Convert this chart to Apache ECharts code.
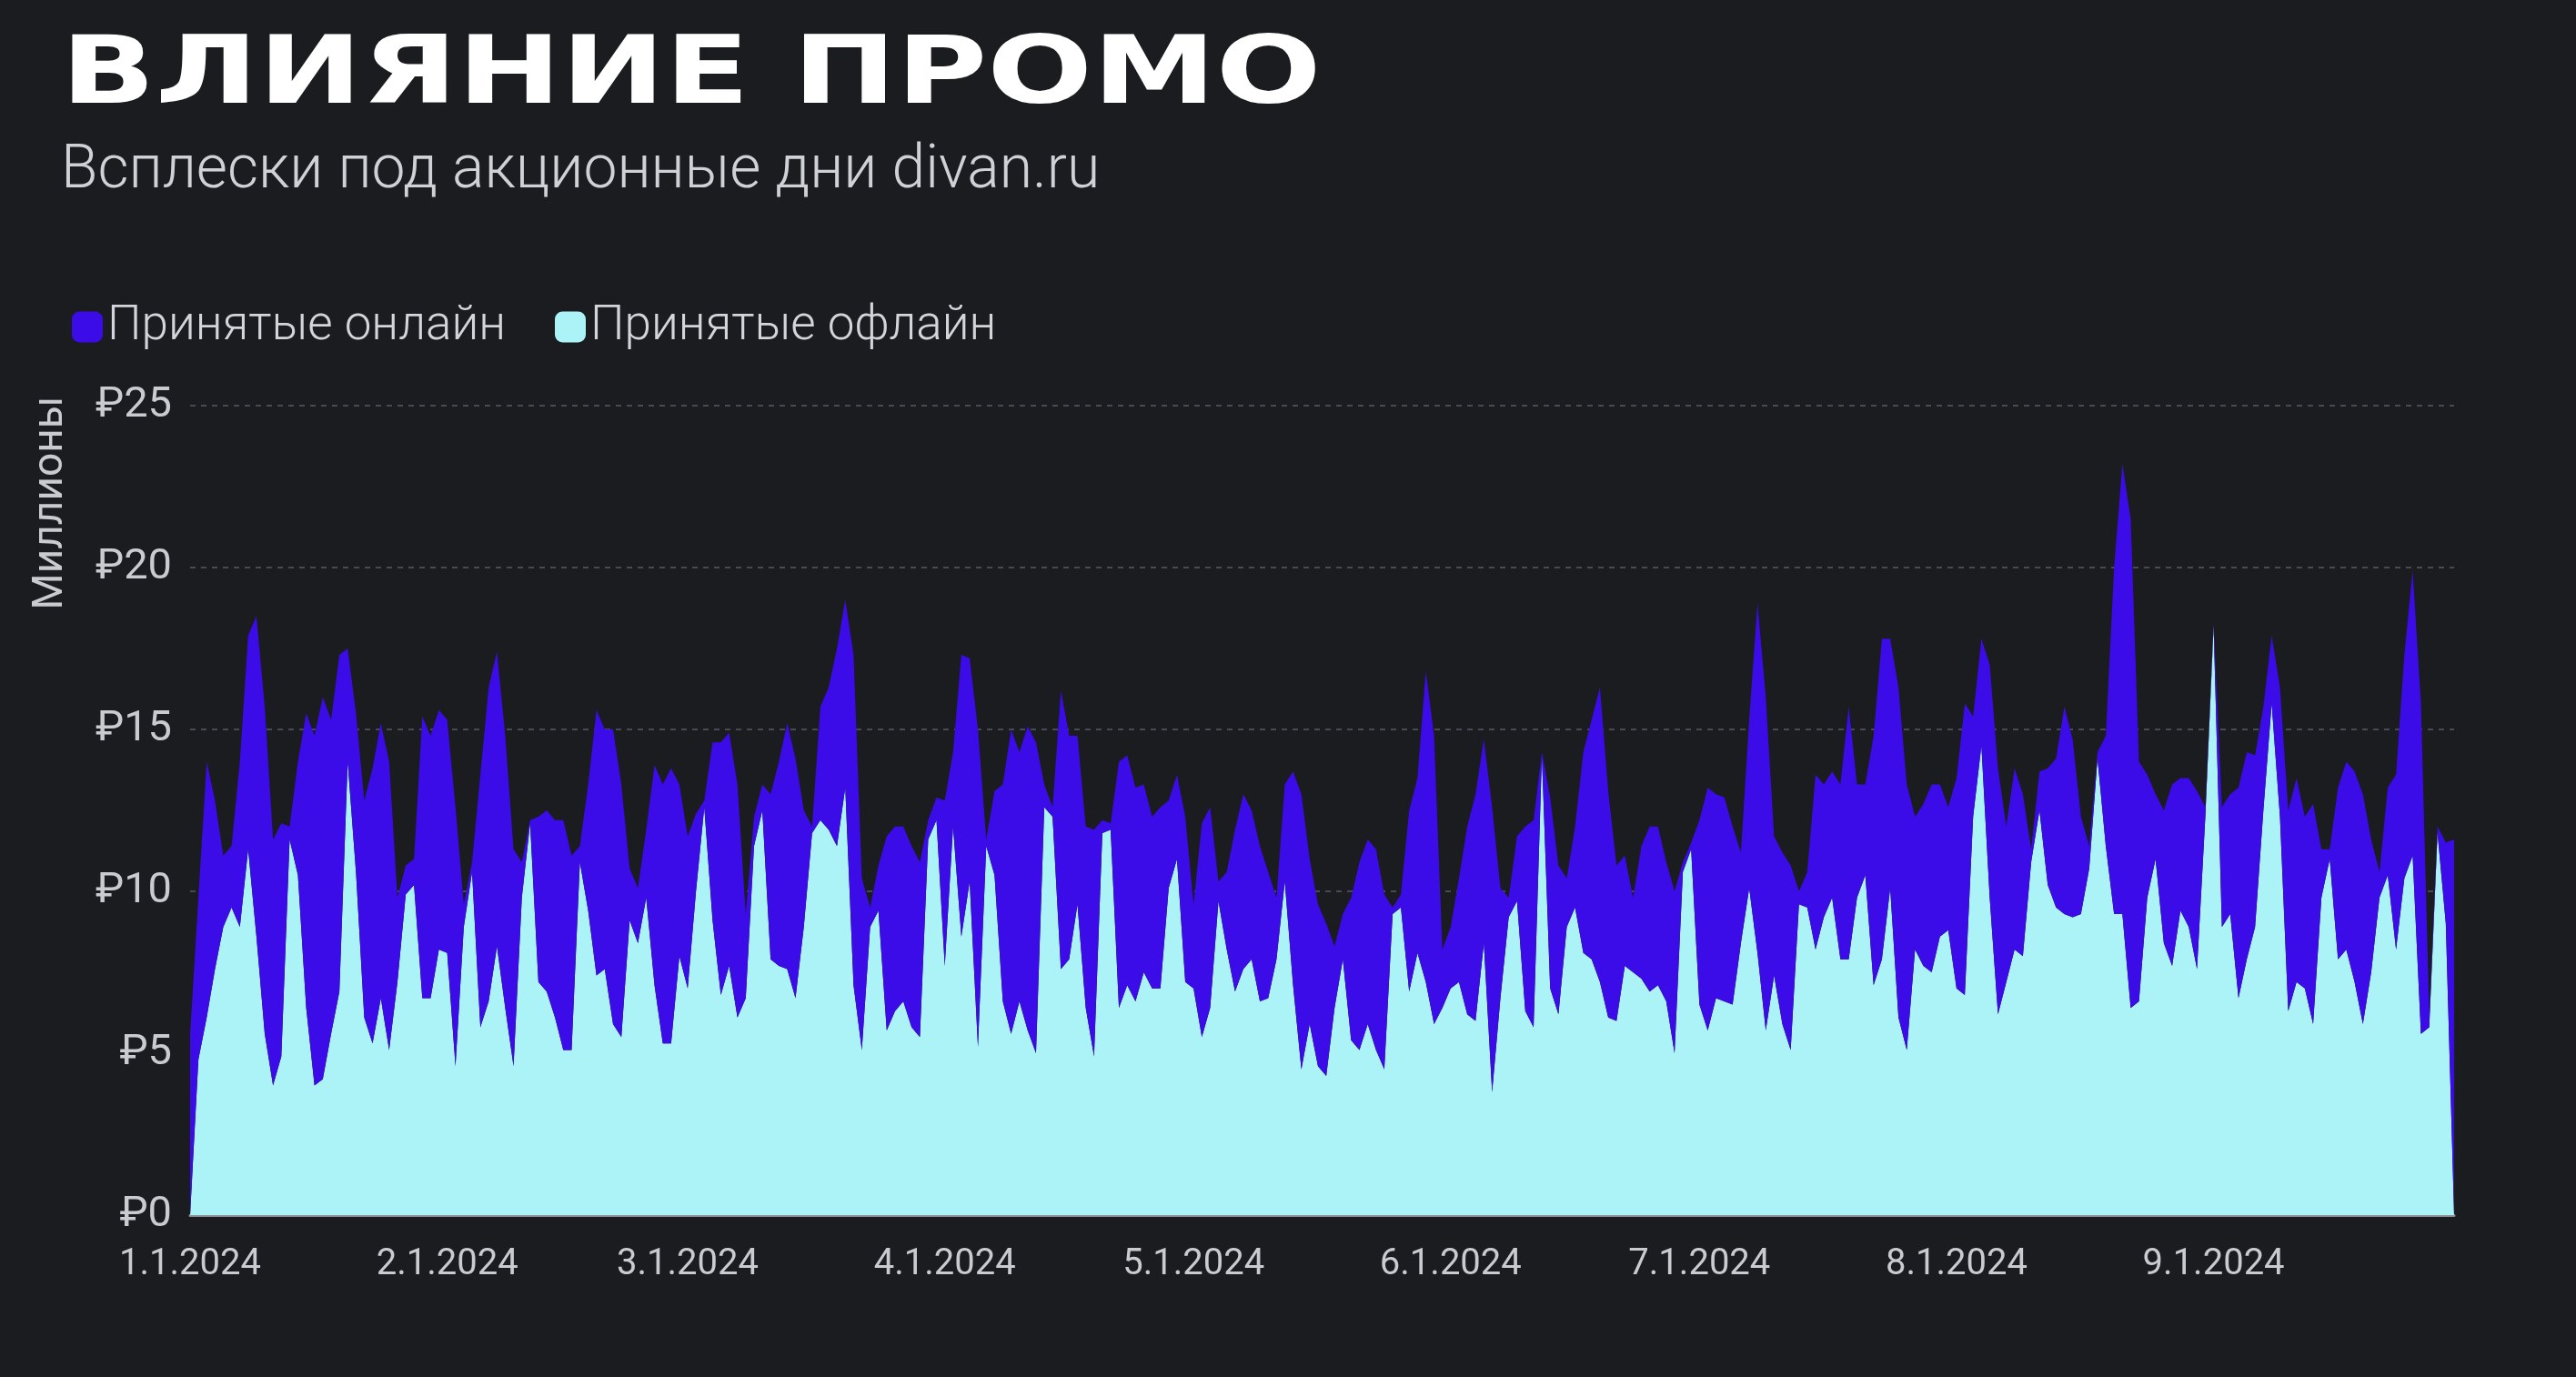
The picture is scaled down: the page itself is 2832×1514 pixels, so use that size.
<!DOCTYPE html>
<html><head><meta charset="utf-8">
<script src="https://cdn.jsdelivr.net/npm/echarts/dist/echarts.min.js"></script>
<style>html,body{margin:0;padding:0;background:#1a1c20;}#c{width:2832px;height:1514px;}</style>
</head><body><div id="c"></div>
<script>
const titleText = 'ВЛИЯНИЕ ПРОМО';
const subtitleText = 'Всплески под акционные дни divan.ru';
const yAxisName = 'Миллионы';
const seriesNames = ['Принятые онлайн', 'Принятые офлайн'];
const yTicks = [0, 5, 10, 15, 20, 25];

// daily categories 1.1.2024 ... 9.30.2024 (M.D.YYYY)
const dates = [];
for (let i = 0; i < 274; i++) {
  const d = new Date(2024, 0, 1 + i);
  dates.push((d.getMonth() + 1) + '.' + d.getDate() + '.' + d.getFullYear());
}

// offline accepted, millions RUB
const offline = [0,4.8,6.1,7.6,8.9,9.5,8.9,11.3,8.6,5.6,
4.0,4.9,11.6,10.5,6.4,4.0,4.2,5.6,6.9,14.0,
10.6,6.1,5.3,6.7,5.1,7.2,9.9,10.2,6.7,6.7,
8.2,8.1,4.6,8.9,10.6,5.8,6.6,8.3,6.4,4.6,
9.8,12.1,7.2,6.9,6.1,5.1,5.1,10.9,9.4,7.4,
7.6,5.9,5.5,9.1,8.4,9.8,7.1,5.3,5.3,8.0,
7.0,10.0,12.6,9.1,6.8,7.7,6.1,6.7,11.4,12.5,
7.9,7.7,7.6,6.7,8.9,11.8,12.2,11.9,11.4,13.2,
7.1,5.1,8.9,9.4,5.7,6.3,6.6,5.8,5.5,11.6,
12.2,7.7,12.0,8.6,10.3,5.2,11.4,10.5,6.6,5.6,
6.6,5.7,5.0,12.6,12.3,7.6,7.9,9.6,6.4,4.9,
11.8,11.9,6.4,7.1,6.6,7.5,7.0,7.0,10.1,11.0,
7.2,7.0,5.5,6.4,9.7,8.2,6.9,7.6,7.9,6.6,
6.7,7.9,10.3,7.1,4.5,5.9,4.6,4.3,6.4,7.9,
5.4,5.1,5.9,5.1,4.5,9.3,9.5,6.9,8.1,7.2,
5.9,6.4,7.0,7.2,6.2,6.0,8.4,3.8,6.7,9.2,
9.7,6.3,5.8,14.2,7.0,6.2,8.9,9.5,8.1,7.9,
7.2,6.1,6.0,7.7,7.5,7.3,6.9,7.1,6.6,5.0,
10.6,11.3,6.5,5.7,6.7,6.6,6.5,8.4,10.1,8.1,
5.7,7.4,5.9,5.1,9.6,9.5,8.2,9.2,9.8,7.9,
7.9,9.8,10.5,7.1,7.9,10.1,6.1,5.1,8.2,7.7,
7.5,8.6,8.8,7.0,6.8,12.3,14.5,9.8,6.2,7.2,
8.2,8.0,10.9,12.5,10.2,9.5,9.3,9.2,9.3,10.7,
14.1,11.4,9.3,9.3,6.4,6.6,9.8,11.0,8.4,7.7,
9.4,8.9,7.6,12.3,18.2,8.9,9.3,6.7,7.9,8.9,
12.5,15.8,12.3,6.3,7.2,7.0,5.9,9.8,11.0,7.9,
8.2,7.2,5.9,7.5,9.8,10.5,8.2,10.4,11.1,5.6,
5.8,11.8,9.0,0];

// online accepted, millions RUB
const online = [5.6,5.0,7.9,5.2,2.2,1.9,5.1,6.6,9.9,10.1,
7.6,7.2,0.4,3.5,9.1,10.8,11.8,9.7,10.4,3.5,
4.9,6.7,8.5,8.5,8.9,2.6,0.9,0.8,8.7,8.1,
7.4,7.2,8.0,0.7,0.3,7.8,9.7,9.1,8.4,6.7,
1.1,0.1,5.1,5.6,6.1,7.1,6.0,0.5,3.9,8.2,
7.4,9.1,7.8,1.6,1.7,2.1,6.8,8.0,8.5,5.3,
4.7,2.4,0.2,5.5,7.8,7.2,7.2,2.6,0.9,0.8,
5.1,6.3,7.6,7.4,3.6,0.2,3.5,4.4,6.1,5.8,
10.2,5.3,0.6,1.4,6.0,5.7,5.4,5.6,5.4,0.6,
0.7,5.1,2.3,8.7,6.9,9.8,0.2,2.6,6.7,9.4,
7.7,9.4,9.6,0.7,0.3,8.6,6.9,5.2,5.6,7.0,
0.4,0.2,7.6,7.1,6.6,5.8,5.3,5.6,2.7,2.6,
5.1,2.6,6.6,6.2,0.6,2.4,5.0,5.4,4.6,4.8,
3.9,1.9,3.0,6.6,8.5,5.1,5.0,4.7,1.9,1.4,
4.4,5.8,5.7,6.2,5.4,0.2,0.4,5.6,5.4,9.6,
8.9,1.8,1.9,3.2,5.8,7.0,6.3,8.8,3.4,0.6,
2.0,5.7,6.4,0.1,5.9,4.6,1.5,2.5,6.2,7.4,
9.1,7.0,4.8,3.4,2.3,4.1,5.1,4.9,4.3,5.0,
0.3,0.2,5.7,7.5,6.3,6.3,5.5,2.8,5.2,10.8,
10.3,4.3,5.3,5.7,0.4,1.1,5.4,4.1,3.9,5.4,
7.8,3.5,2.8,7.7,9.9,7.7,10.2,8.2,4.1,5.0,
5.8,4.7,3.8,6.5,9.0,3.1,3.3,7.2,7.6,4.8,
5.6,5.0,0.4,1.2,3.6,4.6,6.4,5.5,3.0,0.7,
0.2,3.4,10.7,13.9,15.1,7.4,3.8,2.0,4.1,5.6,
4.1,4.6,5.5,0.3,0.1,3.7,3.7,6.5,6.4,5.3,
3.2,2.1,4.0,6.2,6.3,5.3,6.8,1.5,0.3,5.3,
5.8,6.5,7.1,4.1,0.8,2.7,5.4,6.9,8.8,10.2,
0.4,0.2,2.5,11.6];

const PURPLE = '#3b0ce8';
const CYAN = '#abf3f7';
const TEXT = '#c9cbd0';

const chart = echarts.init(document.getElementById('c'), null, {renderer: 'canvas', width: 2832, height: 1514, devicePixelRatio: 1});
chart.setOption({
  backgroundColor: '#1a1c20',
  animation: false,
  graphic: [
    {type: 'text', x: 67, y: 86, scaleX: 1.31,
     style: {text: titleText, fill: '#ffffff', font: 'bold 104px "DejaVu Sans"', align: 'left', verticalAlign: 'middle'}},
    {type: 'text', x: 67, y: 189,
     style: {text: subtitleText, fill: '#cfd1d6', font: '300 66px Roboto', align: 'left', verticalAlign: 'middle'}},
    {type: 'text', x: 56, y: 553, rotation: Math.PI / 2,
     style: {text: yAxisName, fill: TEXT, font: '46px Roboto', align: 'center', verticalAlign: 'middle'}}
  ],
  legend: {
    data: seriesNames,
    left: 74, top: 328,
    icon: 'roundRect', itemWidth: 34, itemHeight: 34, itemGap: 54,
    textStyle: {color: '#d3d5da', fontSize: 53, fontFamily: 'Roboto', fontWeight: 300}
  },
  grid: {left: 209, right: 134, top: 446, bottom: 178},
  xAxis: {
    type: 'category', data: dates, boundaryGap: false,
    axisLine: {lineStyle: {color: '#8d9096', width: 3}},
    axisTick: {show: false},
    axisLabel: {interval: (i, v) => v.split('.')[1] === '1', color: TEXT, fontSize: 40, fontFamily: 'Roboto', margin: 35},
    splitLine: {show: false}
  },
  yAxis: {
    type: 'value', min: yTicks[0], max: yTicks[yTicks.length - 1], interval: 5,
    axisLabel: {formatter: '₽{value}', color: TEXT, fontSize: 47, fontFamily: 'Roboto', margin: 20},
    splitLine: {lineStyle: {color: '#474a52', type: [6, 6], width: 2}},
    axisLine: {show: false}, axisTick: {show: false}
  },
  series: [
    {name: seriesNames[1], type: 'line', stack: 'all', data: offline, symbol: 'none',
     lineStyle: {width: 0, opacity: 0}, itemStyle: {color: CYAN}, areaStyle: {color: CYAN, opacity: 1}},
    {name: seriesNames[0], type: 'line', stack: 'all', data: online, symbol: 'none',
     lineStyle: {width: 0, opacity: 0}, itemStyle: {color: PURPLE}, areaStyle: {color: PURPLE, opacity: 1}}
  ]
});
</script></body></html>
